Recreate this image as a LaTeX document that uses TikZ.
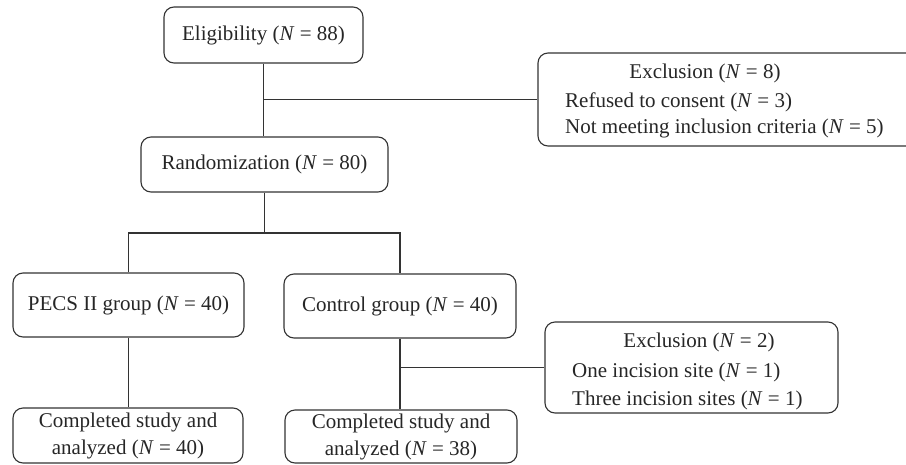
\documentclass[tikz,border=0pt]{standalone}
\usepackage{fontspec}
\setmainfont{Liberation Serif}
\begin{document}
\begin{tikzpicture}[x=1pt,y=-1pt,
  box/.style={draw=black!80, line width=1.1pt, rounded corners=10pt, inner sep=2pt, align=center,
    font=\fontsize{21}{27}\selectfont, text=black!85},
  txt/.style={inner sep=0pt, font=\fontsize{21}{27}\selectfont, text=black!85},
  conn/.style={draw=black!80, line width=1.1pt, line join=miter}]
\useasboundingbox (0,0) rectangle (906,464);
\clip (0,0) rectangle (906,464);
\node[box, minimum width=199pt, minimum height=56pt] (elig) at (263.5,35) {Eligibility (\textit{N} = 88)};
\node[box, minimum width=247pt, minimum height=55pt] (rand) at (264.5,164.5) {Randomization (\textit{N} = 80)};
\node[box, minimum width=231pt, minimum height=64pt] (pecs) at (128.5,305) {PECS II group (\textit{N} = 40)};
\node[box, minimum width=232pt, minimum height=64pt] (ctrl) at (400,306) {Control group (\textit{N} = 40)};
\node[box, minimum width=230pt, minimum height=55pt] (comp1) at (128,435.5) {Completed study and\\analyzed (\textit{N} = 40)};
\node[box, minimum width=232pt, minimum height=53pt] (comp2) at (401,436.5) {Completed study and\\analyzed (\textit{N} = 38)};
\node[box, minimum width=402pt, minimum height=93pt] (exc1) at (739,99.5) {};
\node[box, minimum width=293pt, minimum height=91pt] (exc2) at (691.5,367.5) {};
% texts of exclusion boxes
\node[txt, anchor=base] (e1t) at (705,78) {Exclusion (\textit{N} = 8)};
\node[txt, anchor=base west] (e1a) at (565,107) {Refused to consent (\textit{N} = 3)};
\node[txt, anchor=base west] (e1b) at (565,133) {Not meeting inclusion criteria (\textit{N} = 5)};
\node[txt, anchor=base] (e2t) at (699,347) {Exclusion (\textit{N} = 2)};
\node[txt, anchor=base west] (e2a) at (572,377) {One incision site (\textit{N} = 1)};
\node[txt, anchor=base west] (e2b) at (572,405) {Three incision sites (\textit{N} = 1)};
% connectors
\coordinate (j1) at (elig.south |- exc1.west);
\draw[conn] (elig.south) -- (elig.south |- rand.north);
\draw[conn] (j1) -- (exc1.west);
\coordinate (j2) at (265,233);
\draw[conn] (rand.south) -- (rand.south |- j2);
\draw[conn] (pecs.north) -- (pecs.north |- j2) -- (ctrl.north |- j2) -- (ctrl.north);
\draw[conn] (pecs.south) -- (comp1.north -| pecs.south);
\coordinate (j3) at (ctrl.south |- exc2.west);
\draw[conn] (ctrl.south) -- (comp2.north -| ctrl.south);
\draw[conn] (j3) -- (exc2.west);
\end{tikzpicture}
\end{document}
